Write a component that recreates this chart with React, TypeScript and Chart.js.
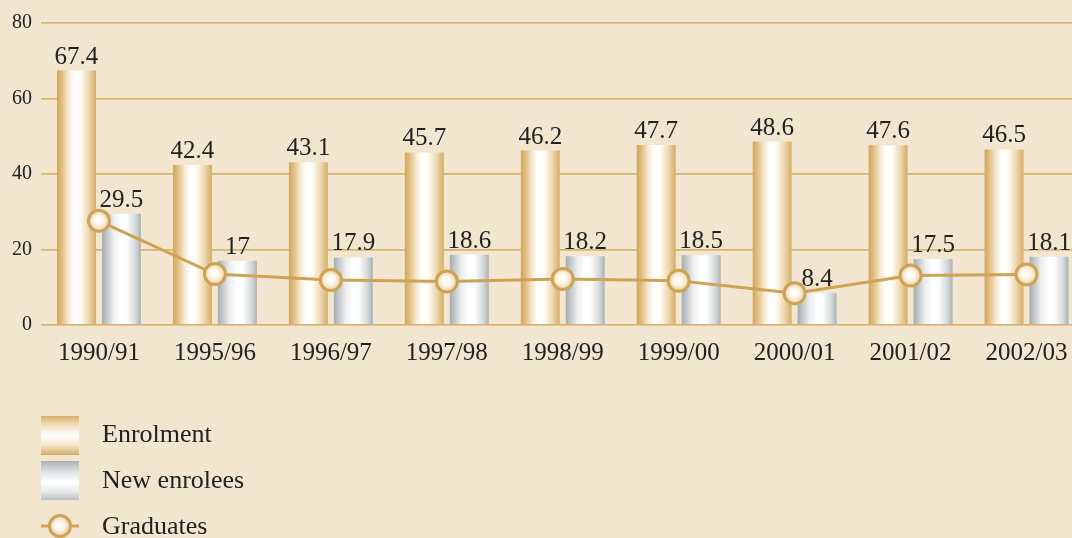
import React, { useEffect, useRef } from "react";
import { Chart, registerables } from "chart.js";

Chart.register(...registerables);

const categories = ["1990/91", "1995/96", "1996/97", "1997/98", "1998/99", "1999/00", "2000/01", "2001/02", "2002/03"];
const enrolment = [67.4, 42.4, 43.1, 45.7, 46.2, 47.7, 48.6, 47.6, 46.5];
const newEnrolees = [29.5, 17, 17.9, 18.6, 18.2, 18.5, 8.4, 17.5, 18.1];
const graduates = [27.6, 13.5, 11.9, 11.5, 12.2, 11.7, 8.4, 13.1, 13.4];
const yTicks = [0, 20, 40, 60, 80];
const legendLabels = ["Enrolment", "New enrolees", "Graduates"];

const BG = "#F2E6D1";
const GOLD = "#CFA355";
const GRID = "#D8B574";
const TEXT = "#222222";
const FONT = "'Liberation Serif', 'DejaVu Serif', serif";
const CP = 0.776;
const BP = 0.867;
const CANVAS_W = 1098;

const goldStops: [number, string][] = [
  [0, "#D1A85C"], [0.12, "#DFBD80"], [0.3, "#F6EAD5"], [0.45, "#FFFFFF"], [0.6, "#FFFCF6"], [0.8, "#EEDAB5"], [1, "#D4AD64"],
];
const greyStops: [number, string][] = [
  [0, "#A6ACAF"], [0.12, "#C2C7C9"], [0.3, "#ECEEEF"], [0.5, "#FFFFFF"], [0.65, "#FBFCFC"], [0.85, "#D7DBDC"], [1, "#ACB2B5"],
];

function barGrad(ctx: any, stops: [number, string][], side: number) {
  const chart = ctx.chart;
  const xs = chart.scales && chart.scales.x;
  if (!xs || ctx.type !== "data") return stops[0][1];
  const catW = xs.width / categories.length;
  const slot = (catW * CP) / 2;
  const center = xs.getPixelForValue(ctx.dataIndex) + (side * slot) / 2;
  const w = slot * BP;
  if (!isFinite(center) || !isFinite(w) || w <= 0) return stops[0][1];
  const g = chart.ctx.createLinearGradient(center - w / 2, 0, center + w / 2, 0);
  stops.forEach(([o, c]) => g.addColorStop(o, c));
  return g;
}

function pointGrad(ctx: any) {
  const chart = ctx.chart;
  const xs = chart.scales && chart.scales.x;
  const ys = chart.scales && chart.scales.y;
  if (!xs || !ys || ctx.type !== "data") return "#FFFFFF";
  const x = xs.getPixelForValue(ctx.dataIndex);
  const y = ys.getPixelForValue(graduates[ctx.dataIndex]);
  if (!isFinite(x) || !isFinite(y)) return "#FFFFFF";
  const g = chart.ctx.createRadialGradient(x - 1, y - 1, 0, x, y, 10.5);
  g.addColorStop(0, "#FFFFFF");
  g.addColorStop(0.45, "#FCF6EA");
  g.addColorStop(1, "#E6D0A3");
  return g;
}

const labelPlugin = {
  id: "barLabels",
  afterDatasetsDraw(chart: any) {
    const c = chart.ctx;
    c.save();
    c.font = `25px ${FONT}`;
    c.fillStyle = TEXT;
    c.textAlign = "center";
    c.textBaseline = "alphabetic";
    [0, 1].forEach((di) => {
      const meta = chart.getDatasetMeta(di);
      const vals = chart.data.datasets[di].data;
      meta.data.forEach((el: any, i: number) => {
        c.fillText(String(vals[i]), el.x, el.y - 7);
      });
    });
    c.restore();
  },
};

const legendPlugin = {
  id: "customLegend",
  afterDraw(chart: any) {
    const c = chart.ctx;
    c.save();
    const x0 = 41;
    const w = 38;
    const boxes = [416, 461];
    boxes.forEach((by, k) => {
      const g = c.createLinearGradient(0, by, 0, by + 39);
      if (k === 0) {
        g.addColorStop(0, "#D6B16A");
        g.addColorStop(0.25, "#F2E2C3");
        g.addColorStop(0.5, "#FFFFFF");
        g.addColorStop(0.75, "#F4E6CC");
        g.addColorStop(1, "#D4AC62");
      } else {
        g.addColorStop(0, "#ACB2B5");
        g.addColorStop(0.3, "#E1E4E5");
        g.addColorStop(0.55, "#FFFFFF");
        g.addColorStop(0.8, "#E4E7E8");
        g.addColorStop(1, "#B9BEC1");
      }
      c.fillStyle = g;
      c.fillRect(x0, by, w, 39);
    });
    const ly = 526;
    c.strokeStyle = GOLD;
    c.lineWidth = 3;
    c.beginPath();
    c.moveTo(x0, ly);
    c.lineTo(x0 + w, ly);
    c.stroke();
    const rg = c.createRadialGradient(x0 + 18, ly - 1, 0, x0 + 19, ly, 10.5);
    rg.addColorStop(0, "#FFFFFF");
    rg.addColorStop(0.45, "#FCF6EA");
    rg.addColorStop(1, "#E6D0A3");
    c.fillStyle = rg;
    c.beginPath();
    c.arc(x0 + 19, ly, 10.5, 0, Math.PI * 2);
    c.fill();
    c.stroke();

    c.font = `26px ${FONT}`;
    c.fillStyle = TEXT;
    c.textAlign = "left";
    c.textBaseline = "middle";
    const ys = [435, 481, 527];
    legendLabels.forEach((t, i) => c.fillText(t, 102, ys[i]));
    c.restore();
  },
};

export default function App() {
  const ref = useRef<HTMLCanvasElement | null>(null);
  useEffect(() => {
    document.body.style.margin = "0";
    const canvas = ref.current;
    if (!canvas) return;
    const chart = new Chart(canvas, {
      type: "bar",
      data: {
        labels: categories,
        datasets: [
          {
            type: "bar",
            label: legendLabels[0],
            data: enrolment,
            backgroundColor: (ctx: any) => barGrad(ctx, goldStops, -1),
            borderWidth: 0,
            categoryPercentage: CP,
            barPercentage: BP,
            order: 2,
          },
          {
            type: "bar",
            label: legendLabels[1],
            data: newEnrolees,
            backgroundColor: (ctx: any) => barGrad(ctx, greyStops, 1),
            borderWidth: 0,
            categoryPercentage: CP,
            barPercentage: BP,
            order: 2,
          },
          {
            type: "line",
            label: legendLabels[2],
            data: graduates,
            borderColor: GOLD,
            borderWidth: 3,
            pointRadius: 10.5,
            pointBorderWidth: 3,
            pointBorderColor: GOLD,
            pointBackgroundColor: pointGrad,
            tension: 0,
            order: 1,
          } as any,
        ],
      },
      options: {
        responsive: false,
        animation: false,
        devicePixelRatio: 1,
        layout: { padding: { top: 23, right: 5, left: 0, bottom: 0 } },
        plugins: {
          legend: { display: false },
          tooltip: { enabled: false },
        },
        scales: {
          x: {
            grid: { display: false, drawTicks: false },
            border: { display: false },
            ticks: { color: TEXT, font: { family: FONT, size: 25 }, padding: 13, maxRotation: 0, autoSkip: false },
            afterFit: (s: any) => {
              s.height = 538 - 325;
            },
          },
          y: {
            min: 0,
            max: 80,
            afterBuildTicks: (s: any) => {
              s.ticks = yTicks.map((v) => ({ value: v }));
            },
            grid: { color: GRID, lineWidth: 1.8, drawTicks: false },
            border: { display: false },
            ticks: { color: TEXT, font: { family: FONT, size: 20 }, padding: 9 },
            afterFit: (s: any) => {
              s.width = 41;
            },
          },
        },
      },
      plugins: [labelPlugin, legendPlugin],
    });
    chart.update();
    return () => chart.destroy();
  }, []);
  return (
    <div style={{ position: "fixed", left: 0, top: 0, width: 1072, height: 538, overflow: "hidden", background: BG }}>
      <canvas ref={ref} width={CANVAS_W} height={538} style={{ display: "block", width: CANVAS_W, height: 538 }} />
    </div>
  );
}
